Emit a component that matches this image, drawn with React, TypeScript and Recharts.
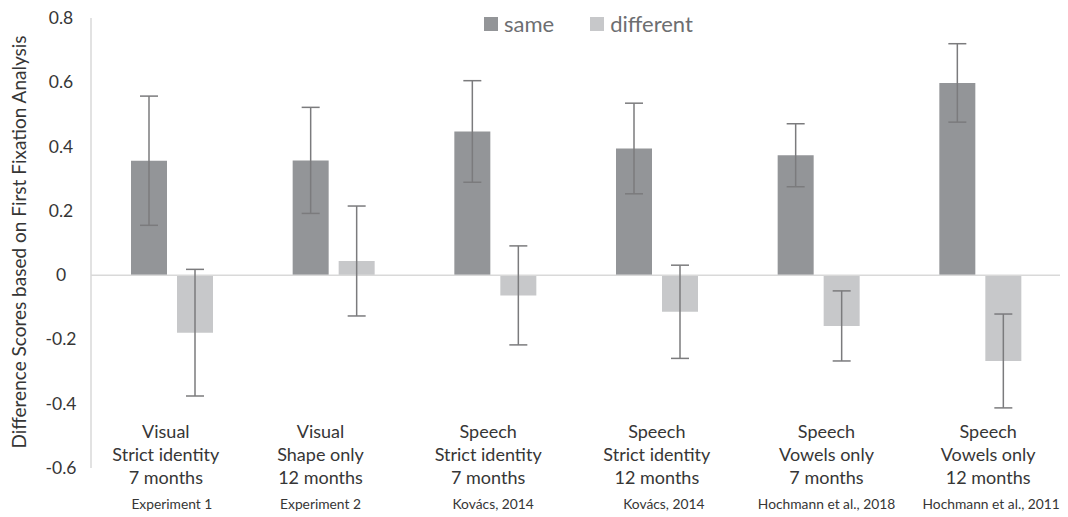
import React from "react";
import { BarChart, Bar, XAxis, YAxis, ErrorBar, ReferenceLine, Legend } from "recharts";

const modality = ["Visual", "Visual", "Speech", "Speech", "Speech", "Speech"];
const condition = ["Strict identity", "Shape only", "Strict identity", "Strict identity", "Vowels only", "Vowels only"];
const age = ["7 months", "12 months", "7 months", "12 months", "7 months", "12 months"];
const source = ["Experiment 1", "Experiment 2", "Kovács, 2014", "Kovács, 2014", "Hochmann et al., 2018", "Hochmann et al., 2011"];

const sameValues = [0.356, 0.357, 0.447, 0.394, 0.373, 0.598];
const sameErrors = [0.201, 0.165, 0.158, 0.141, 0.098, 0.122];
const differentValues = [-0.179, 0.044, -0.063, -0.114, -0.158, -0.267];
const differentErrors = [0.197, 0.171, 0.154, 0.145, 0.109, 0.146];

const yTicks = [-0.6, -0.4, -0.2, 0, 0.2, 0.4, 0.6, 0.8];
const seriesNames = ["same", "different"];
const seriesColors = ["#939598", "#c7c8ca"];

// small text nudges (layout only) for the hand-placed category labels
const labelNudge = [-6, -13, -7, 0, 8, 8];
const sourceNudge = [0, -13, -2, 7, 8, 11];

const data = modality.map((m, i) => ({
  name: `${m} ${condition[i]} ${age[i]}`,
  same: sameValues[i],
  sameErr: sameErrors[i],
  different: differentValues[i],
  differentErr: differentErrors[i],
}));

const FONT = "Lato, 'Open Sans', sans-serif";
const TEXT = "#363636";

const XTick = (props: any) => {
  const { x, y, index } = props;
  const i = typeof index === "number" ? index : 0;
  const lx = x + labelNudge[i];
  const sx = x + sourceNudge[i];
  return (
    <g>
      <text x={lx} y={y - 30} textAnchor="middle" fontSize={18} fill={TEXT} fontFamily={FONT}>{modality[i]}</text>
      <text x={lx} y={y - 7} textAnchor="middle" fontSize={18} fill={TEXT} fontFamily={FONT}>{condition[i]}</text>
      <text x={lx} y={y + 16} textAnchor="middle" fontSize={18} fill={TEXT} fontFamily={FONT}>{age[i]}</text>
      <text x={sx} y={y + 41} textAnchor="middle" fontSize={13.8} fill={TEXT} fontFamily={FONT}>{source[i]}</text>
    </g>
  );
};

const YTick = (props: any) => {
  const { y, payload } = props;
  const v = payload.value as number;
  const label = v === 0 ? "0" : v.toFixed(1);
  return (
    <text x={53} y={y} dy={6} textAnchor="middle" fontSize={17.5} fill={TEXT} fontFamily={FONT}>{label}</text>
  );
};

const YLabel = () => (
  <text transform="translate(18,234) rotate(-90)" textAnchor="middle" fontSize={19} fill={TEXT} fontFamily={FONT}>
    Difference Scores based on First Fixation Analysis
  </text>
);

const LegendContent = () => (
  <div style={{ display: "flex", alignItems: "center", fontFamily: FONT, fontSize: 22, color: "#6d6e71", whiteSpace: "nowrap" }}>
    {seriesNames.map((n, i) => (
      <div key={n} style={{ display: "flex", alignItems: "center", marginRight: i === 0 ? 36 : 0 }}>
        <span style={{ display: "inline-block", width: 14, height: 14, background: seriesColors[i], marginRight: 6 }} />
        <span>{n}</span>
      </div>
    ))}
  </div>
);

export default function App() {
  return (
    <div style={{ width: 1060, height: 509 }}>
      <BarChart
        width={1060}
        height={509}
        data={data}
        margin={{ top: 10, right: 7, bottom: 0, left: 0 }}
        barSize={36}
        barGap={10}
      >
        <XAxis
          dataKey="name"
          axisLine={false}
          tickLine={false}
          tickSize={0}
          tickMargin={0}
          height={49}
          interval={0}
          tick={<XTick />}
        />
        <YAxis
          domain={[-0.6, 0.8]}
          ticks={yTicks}
          width={83}
          axisLine={{ stroke: "#d9d9d9", strokeWidth: 1.5 }}
          tickLine={false}
          tickSize={0}
          tick={<YTick />}
          label={<YLabel />}
          allowDataOverflow
        />
        <ReferenceLine y={0} stroke="#d9d9d9" strokeWidth={1.5} />
        <Legend
          layout="horizontal"
          verticalAlign="middle"
          align="center"
          content={<LegendContent />}
          wrapperStyle={{ top: 2, left: 476, width: "auto" }}
        />
        <Bar dataKey="same" name="same" fill={seriesColors[0]} isAnimationActive={false}>
          <ErrorBar dataKey="sameErr" width={9} stroke="#7b7b7d" strokeWidth={1.5} direction="y" isAnimationActive={false} />
        </Bar>
        <Bar dataKey="different" name="different" fill={seriesColors[1]} isAnimationActive={false}>
          <ErrorBar dataKey="differentErr" width={9} stroke="#7b7b7d" strokeWidth={1.5} direction="y" isAnimationActive={false} />
        </Bar>
      </BarChart>
    </div>
  );
}
